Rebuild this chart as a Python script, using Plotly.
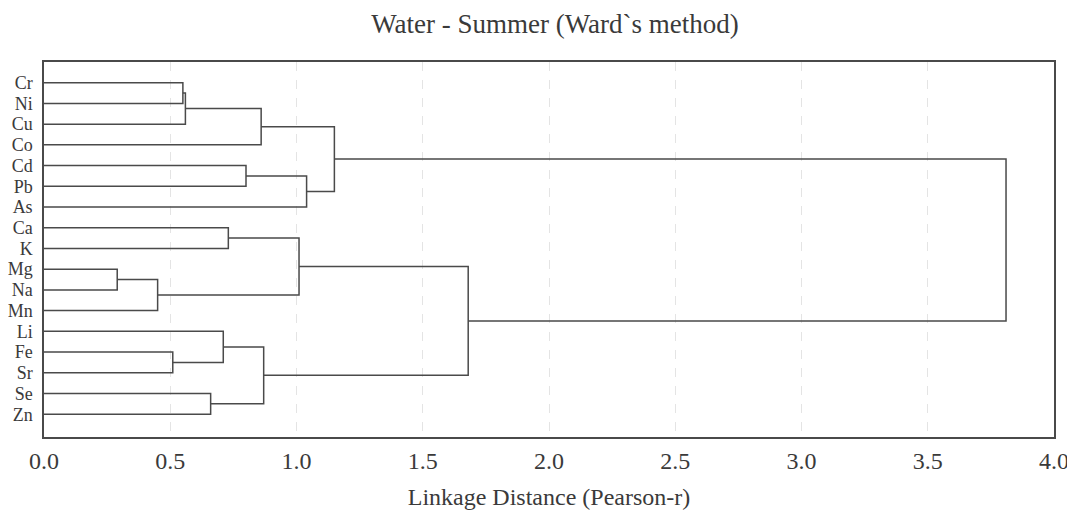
import plotly.graph_objects as go

# ---- data ----
leaf_labels = ["Cr", "Ni", "Cu", "Co", "Cd", "Pb", "As", "Ca", "K",
               "Mg", "Na", "Mn", "Li", "Fe", "Sr", "Se", "Zn"]
# merges: child A, child B (ids; leaves 0..16, clusters 17..), linkage distance
merge_a = [0, 17, 18, 4, 20, 19, 7, 9, 24, 23, 13, 12, 15, 28, 26, 22]
merge_b = [1, 2, 3, 5, 6, 21, 8, 10, 11, 25, 14, 27, 16, 29, 30, 31]
merge_h = [0.55, 0.56, 0.86, 0.80, 1.04, 1.15, 0.73, 0.29, 0.45, 1.01,
           0.51, 0.71, 0.66, 0.87, 1.68, 3.81]
x_ticks = [0.0, 0.5, 1.0, 1.5, 2.0, 2.5, 3.0, 3.5, 4.0]

# ---- build dendrogram geometry ----
n = len(leaf_labels)
pos = {i: float(i) for i in range(n)}
height = {i: 0.0 for i in range(n)}
xs, ys = [], []
for k, (a, b, h) in enumerate(zip(merge_a, merge_b, merge_h)):
    cid = n + k
    xs += [height[a], h, h, height[b], None]
    ys += [pos[a], pos[a], pos[b], pos[b], None]
    pos[cid] = (pos[a] + pos[b]) / 2
    height[cid] = h

line_col = "#4a4a4a"
txt_col = "#3a3a3a"
fig = go.Figure()
fig.add_trace(go.Scatter(x=xs, y=ys, mode="lines",
                         line=dict(color=line_col, width=1.5),
                         hoverinfo="skip", showlegend=False))

# the page has an 8px body margin (left/top), so the figure is sized to fit
W, H = 1067, 511
font_family = "Liberation Serif, Times New Roman, serif"
fig.update_layout(
    width=W, height=H,
    margin=dict(l=36, r=21, t=54, b=82, autoexpand=False),
    paper_bgcolor="white", plot_bgcolor="white",
    title=dict(text="Water - Summer (Ward`s method)", x=547 / W, xanchor="center",
               y=1 - 16 / H, yanchor="middle",
               font=dict(family=font_family, size=27, color=txt_col)),
    font=dict(family=font_family, color=txt_col),
)
fig.update_xaxes(
    range=[0, 4.0], tickvals=x_ticks,
    ticktext=[f"{v:.1f}" for v in x_ticks],
    tickfont=dict(size=24, family=font_family, color=txt_col),
    showgrid=True, gridcolor="#e4e4e4", griddash="dash", gridwidth=1,
    zeroline=False, showline=True, linecolor=line_col, linewidth=1.5, mirror=True,
    ticks="", ticklabelstandoff=1, automargin=False,
    title=dict(text="Linkage Distance (Pearson-r)",
               font=dict(size=24, family=font_family, color=txt_col),
               standoff=16),
)
fig.update_yaxes(
    range=[17.1, -1.0], tickvals=list(range(n)), ticktext=leaf_labels,
    tickfont=dict(size=18, family=font_family, color=txt_col),
    showgrid=False, zeroline=False, showline=True, linecolor=line_col,
    linewidth=1.5, mirror=True, ticks="", ticklabelstandoff=6, automargin=False,
)

fig.write_html("out.html")
